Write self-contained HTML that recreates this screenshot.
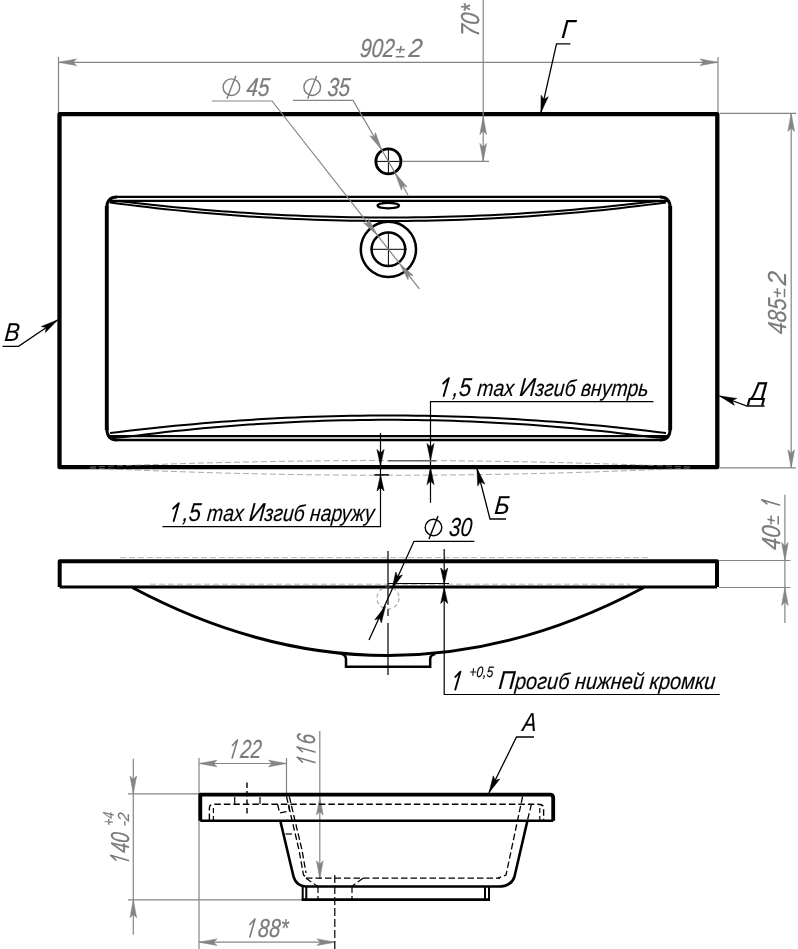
<!DOCTYPE html>
<html><head><meta charset="utf-8"><style>
html,body{margin:0;padding:0;background:#fff;}
svg{display:block;will-change:transform;}
text{font-family:"Liberation Sans",sans-serif;font-style:italic;}
</style></head><body>
<svg width="798" height="949" viewBox="0 0 798 949">
<rect width="798" height="949" fill="#fff"/>
<path d="M59.5,114.2 H717.3 V467.2 H59.5 Z" fill="none" stroke="#000" stroke-width="4.3" stroke-linejoin="round"/>
<path d="M106.8,430 V206" fill="none" stroke="#000" stroke-width="3.9" />
<path d="M670.2,430 V206" fill="none" stroke="#000" stroke-width="3.9" />
<path d="M106.8,208 Q106.8,196.9 117,196.9 M660,196.9 Q670.2,196.9 670.2,208" fill="none" stroke="#000" stroke-width="3.0" />
<path d="M116,196.9 H661" fill="none" stroke="#000" stroke-width="2.4" />
<path d="M110,200.9 H667" fill="none" stroke="#000" stroke-width="2.3" />
<path d="M106.8,428 Q106.8,440 117,440 M660,440 Q670.2,440 670.2,428" fill="none" stroke="#000" stroke-width="3.0" />
<path d="M116,440 H661" fill="none" stroke="#000" stroke-width="2.5" />
<path d="M110,436.1 H667" fill="none" stroke="#000" stroke-width="2.4" />
<path d="M110.00,201.30 L119.27,201.30 L128.53,202.16 L137.80,203.24 L147.07,204.27 L156.33,205.27 L165.60,206.23 L174.87,207.15 L184.13,208.03 L193.40,208.87 L202.67,209.67 L211.93,210.44 L221.20,211.16 L230.47,211.85 L239.73,212.49 L249.00,213.10 L258.27,213.67 L267.53,214.19 L276.80,214.68 L286.07,215.13 L295.33,215.54 L304.60,215.92 L313.87,216.25 L323.13,216.54 L332.40,216.80 L341.67,217.01 L350.93,217.19 L360.20,217.32 L369.47,217.42 L378.73,217.48 L388.00,217.50 L397.27,217.48 L406.53,217.42 L415.80,217.32 L425.07,217.19 L434.33,217.01 L443.60,216.80 L452.87,216.54 L462.13,216.25 L471.40,215.92 L480.67,215.54 L489.93,215.13 L499.20,214.68 L508.47,214.19 L517.73,213.67 L527.00,213.10 L536.27,212.49 L545.53,211.85 L554.80,211.16 L564.07,210.44 L573.33,209.67 L582.60,208.87 L591.87,208.03 L601.13,207.15 L610.40,206.23 L619.67,205.27 L628.93,204.27 L638.20,203.24 L647.47,202.16 L656.73,201.30 L666.00,201.30" fill="none" stroke="#000" stroke-width="2.0" />
<path d="M110.00,202.50 L119.27,203.71 L128.53,204.88 L137.80,206.02 L147.07,207.10 L156.33,208.15 L165.60,209.16 L174.87,210.13 L184.13,211.05 L193.40,211.94 L202.67,212.78 L211.93,213.58 L221.20,214.34 L230.47,215.06 L239.73,215.74 L249.00,216.38 L258.27,216.97 L267.53,217.53 L276.80,218.04 L286.07,218.51 L295.33,218.94 L304.60,219.34 L313.87,219.68 L323.13,219.99 L332.40,220.26 L341.67,220.49 L350.93,220.67 L360.20,220.81 L369.47,220.92 L378.73,220.98 L388.00,221.00 L397.27,220.98 L406.53,220.92 L415.80,220.81 L425.07,220.67 L434.33,220.49 L443.60,220.26 L452.87,219.99 L462.13,219.68 L471.40,219.34 L480.67,218.94 L489.93,218.51 L499.20,218.04 L508.47,217.53 L517.73,216.97 L527.00,216.38 L536.27,215.74 L545.53,215.06 L554.80,214.34 L564.07,213.58 L573.33,212.78 L582.60,211.94 L591.87,211.05 L601.13,210.13 L610.40,209.16 L619.67,208.15 L628.93,207.10 L638.20,206.01 L647.47,204.88 L656.73,203.71 L666.00,202.50" fill="none" stroke="#000" stroke-width="2.0" />
<path d="M110.00,433.10 L119.27,431.95 L128.53,430.83 L137.80,429.76 L147.07,428.72 L156.33,427.72 L165.60,426.77 L174.87,425.85 L184.13,424.97 L193.40,424.13 L202.67,423.32 L211.93,422.56 L221.20,421.84 L230.47,421.15 L239.73,420.51 L249.00,419.90 L258.27,419.33 L267.53,418.81 L276.80,418.32 L286.07,417.87 L295.33,417.46 L304.60,417.08 L313.87,416.75 L323.13,416.46 L332.40,416.20 L341.67,415.99 L350.93,415.81 L360.20,415.68 L369.47,415.58 L378.73,415.52 L388.00,415.50 L397.27,415.52 L406.53,415.58 L415.80,415.68 L425.07,415.81 L434.33,415.99 L443.60,416.20 L452.87,416.46 L462.13,416.75 L471.40,417.08 L480.67,417.46 L489.93,417.87 L499.20,418.32 L508.47,418.81 L517.73,419.33 L527.00,419.90 L536.27,420.51 L545.53,421.15 L554.80,421.84 L564.07,422.56 L573.33,423.32 L582.60,424.13 L591.87,424.97 L601.13,425.85 L610.40,426.77 L619.67,427.72 L628.93,428.72 L638.20,429.76 L647.47,430.83 L656.73,431.95 L666.00,433.10" fill="none" stroke="#000" stroke-width="2.0" />
<path d="M110.00,437.50 L119.27,437.50 L128.53,436.54 L137.80,435.37 L147.07,434.24 L156.33,433.15 L165.60,432.10 L174.87,431.10 L184.13,430.14 L193.40,429.22 L202.67,428.34 L211.93,427.51 L221.20,426.72 L230.47,425.97 L239.73,425.27 L249.00,424.60 L258.27,423.99 L267.53,423.41 L276.80,422.88 L286.07,422.38 L295.33,421.94 L304.60,421.53 L313.87,421.17 L323.13,420.85 L332.40,420.57 L341.67,420.33 L350.93,420.14 L360.20,419.99 L369.47,419.89 L378.73,419.82 L388.00,419.80 L397.27,419.82 L406.53,419.89 L415.80,419.99 L425.07,420.14 L434.33,420.33 L443.60,420.57 L452.87,420.85 L462.13,421.17 L471.40,421.53 L480.67,421.94 L489.93,422.38 L499.20,422.88 L508.47,423.41 L517.73,423.99 L527.00,424.60 L536.27,425.27 L545.53,425.97 L554.80,426.72 L564.07,427.51 L573.33,428.34 L582.60,429.22 L591.87,430.14 L601.13,431.10 L610.40,432.10 L619.67,433.15 L628.93,434.24 L638.20,435.37 L647.47,436.54 L656.73,437.50 L666.00,437.50" fill="none" stroke="#000" stroke-width="2.0" />
<circle cx="388.4" cy="161.4" r="12.5" fill="none" stroke="#000" stroke-width="2.9"/>
<line x1="376.5" y1="161.4" x2="399.5" y2="161.4" stroke="#000" stroke-width="1.0" />
<line x1="388.4" y1="149" x2="388.4" y2="173.5" stroke="#000" stroke-width="1.0" />
<ellipse cx="388.3" cy="205.6" rx="10.8" ry="2.7" fill="none" stroke="#000" stroke-width="2.3"/>
<circle cx="388.4" cy="249.3" r="27.6" fill="none" stroke="#000" stroke-width="2.5"/>
<circle cx="388.4" cy="249.3" r="16.8" fill="none" stroke="#000" stroke-width="2.5"/>
<line x1="370.4" y1="249.3" x2="407" y2="249.3" stroke="#000" stroke-width="1.0" />
<line x1="388.4" y1="231.5" x2="388.4" y2="267" stroke="#000" stroke-width="1.0" />
<path d="M90,467 Q390,454 690,467" fill="none" stroke="#858585" stroke-width="1.0" stroke-dasharray="6 3" opacity="0.7"/>
<path d="M90,468 Q390,482.5 690,468" fill="none" stroke="#858585" stroke-width="1.0" stroke-dasharray="6 3" opacity="0.7"/>
<line x1="58.5" y1="57" x2="58.5" y2="112" stroke="#858585" stroke-width="1.2" />
<line x1="718" y1="57" x2="718" y2="112" stroke="#858585" stroke-width="1.2" />
<line x1="58.5" y1="62.3" x2="718" y2="62.3" stroke="#858585" stroke-width="1.2" />
<path d="M58.50,62.30 L76.50,59.00 L73.00,62.30 L76.50,65.60 Z" fill="#858585" stroke="#858585" stroke-width="0.6" stroke-linejoin="miter"/>
<path d="M718.00,62.30 L700.00,65.60 L703.50,62.30 L700.00,59.00 Z" fill="#858585" stroke="#858585" stroke-width="0.6" stroke-linejoin="miter"/>
<text transform="translate(359.5,56.5) skewX(-5)" font-size="26" fill="#7a7a7a" stroke="#7a7a7a" stroke-width="0.25" text-anchor="start" textLength="34.5" lengthAdjust="spacingAndGlyphs" >902</text>
<text transform="translate(408.3,56.5) skewX(-5)" font-size="26" fill="#7a7a7a" stroke="#7a7a7a" stroke-width="0.25" text-anchor="start" textLength="13.5" lengthAdjust="spacingAndGlyphs" >2</text>
<g transform="translate(400.4,49.6) rotate(0)" stroke="#7a7a7a" stroke-width="1.5"><line x1="-4.6" y1="0" x2="4.6" y2="0"/><line x1="0.7" y1="-3.6" x2="-0.7" y2="3.6"/><line x1="-4.6" y1="7.1" x2="4.0" y2="7.1"/></g>
<line x1="720" y1="113.4" x2="796" y2="113.4" stroke="#858585" stroke-width="1.2" />
<line x1="720" y1="467.8" x2="796" y2="467.8" stroke="#858585" stroke-width="1.2" />
<line x1="791.2" y1="113.4" x2="791.2" y2="467.8" stroke="#858585" stroke-width="1.2" />
<path d="M791.20,113.40 L794.50,131.40 L791.20,127.90 L787.90,131.40 Z" fill="#858585" stroke="#858585" stroke-width="0.6" stroke-linejoin="miter"/>
<path d="M791.20,467.80 L787.90,449.80 L791.20,453.30 L794.50,449.80 Z" fill="#858585" stroke="#858585" stroke-width="0.6" stroke-linejoin="miter"/>
<text transform="translate(786,334.5) rotate(-90) skewX(-5)" font-size="26" fill="#7a7a7a" stroke="#7a7a7a" stroke-width="0.25" text-anchor="start" textLength="35.5" lengthAdjust="spacingAndGlyphs" >485</text>
<text transform="translate(786,285.5) rotate(-90) skewX(-5)" font-size="26" fill="#7a7a7a" stroke="#7a7a7a" stroke-width="0.25" text-anchor="start" textLength="13.5" lengthAdjust="spacingAndGlyphs" >2</text>
<g transform="translate(777.4,292.7) rotate(-90)" stroke="#7a7a7a" stroke-width="1.5"><line x1="-4.6" y1="0" x2="4.6" y2="0"/><line x1="0.7" y1="-3.6" x2="-0.7" y2="3.6"/><line x1="-4.6" y1="7.1" x2="4.0" y2="7.1"/></g>
<line x1="483.2" y1="0" x2="483.2" y2="161.4" stroke="#858585" stroke-width="1.2" />
<line x1="402" y1="161.4" x2="489" y2="161.4" stroke="#858585" stroke-width="1.2" />
<path d="M483.20,116.50 L486.50,134.50 L483.20,131.00 L479.90,134.50 Z" fill="#858585" stroke="#858585" stroke-width="0.6" stroke-linejoin="miter"/>
<path d="M483.20,161.40 L479.90,143.40 L483.20,146.90 L486.50,143.40 Z" fill="#858585" stroke="#858585" stroke-width="0.6" stroke-linejoin="miter"/>
<text transform="translate(478.5,37) rotate(-90) skewX(-5)" font-size="26" fill="#7a7a7a" stroke="#7a7a7a" stroke-width="0.25" text-anchor="start" textLength="32" lengthAdjust="spacingAndGlyphs" >70*</text>
<polyline points="212,101.0 272,101.0 419.4,288.8" fill="none" stroke="#858585" stroke-width="1.2" />
<path d="M377.29,235.14 L363.58,223.02 L368.33,223.73 L368.77,218.94 Z" fill="#858585" stroke="#858585" stroke-width="0.6" stroke-linejoin="miter"/>
<path d="M399.51,263.46 L413.22,275.58 L408.47,274.87 L408.03,279.66 Z" fill="#858585" stroke="#858585" stroke-width="0.6" stroke-linejoin="miter"/>
<circle cx="231.4" cy="87.2" r="8.3" fill="none" stroke="#7a7a7a" stroke-width="1.4"/>
<line x1="235.9" y1="75.7" x2="226.9" y2="98.7" stroke="#7a7a7a" stroke-width="1.4" />
<text transform="translate(246,96) skewX(-5)" font-size="26" fill="#7a7a7a" stroke="#7a7a7a" stroke-width="0.25" text-anchor="start" textLength="23" lengthAdjust="spacingAndGlyphs" >45</text>
<polyline points="293,100.4 353,100.4 408,195" fill="none" stroke="#858585" stroke-width="1.2" />
<path d="M381.62,149.72 L369.73,135.81 L374.35,137.18 L375.44,132.50 Z" fill="#858585" stroke="#858585" stroke-width="0.6" stroke-linejoin="miter"/>
<path d="M395.18,173.08 L407.11,186.95 L402.50,185.59 L401.42,190.28 Z" fill="#858585" stroke="#858585" stroke-width="0.6" stroke-linejoin="miter"/>
<circle cx="312.2" cy="87.2" r="8.3" fill="none" stroke="#7a7a7a" stroke-width="1.4"/>
<line x1="316.7" y1="75.7" x2="307.7" y2="98.7" stroke="#7a7a7a" stroke-width="1.4" />
<text transform="translate(327,96) skewX(-5)" font-size="26" fill="#7a7a7a" stroke="#7a7a7a" stroke-width="0.25" text-anchor="start" textLength="22.5" lengthAdjust="spacingAndGlyphs" >35</text>
<text transform="translate(561,38) skewX(-5)" font-size="26" fill="#000" stroke="#000" stroke-width="0.15" text-anchor="start" textLength="13" lengthAdjust="spacingAndGlyphs" >Г</text>
<polyline points="570.4,43.9 556.5,43.9 540.9,112.6" fill="none" stroke="#000" stroke-width="1.3" />
<path d="M540.90,112.60 L541.15,95.22 L543.89,99.44 L548.18,96.82 Z" fill="#000" stroke="#000" stroke-width="0.6" stroke-linejoin="miter"/>
<text transform="translate(4,340.5) skewX(-5)" font-size="26" fill="#000" stroke="#000" stroke-width="0.15" text-anchor="start" textLength="15" lengthAdjust="spacingAndGlyphs" >В</text>
<polyline points="2.5,346.3 18.5,346.3 57.5,320" fill="none" stroke="#000" stroke-width="1.3" />
<path d="M57.50,320.00 L45.42,332.49 L46.31,327.55 L41.39,326.52 Z" fill="#000" stroke="#000" stroke-width="0.6" stroke-linejoin="miter"/>
<text transform="translate(749.5,400) skewX(-5)" font-size="26" fill="#000" stroke="#000" stroke-width="0.15" text-anchor="start" textLength="17" lengthAdjust="spacingAndGlyphs" >Д</text>
<polyline points="764.5,406 747,406 719.5,396" fill="none" stroke="#000" stroke-width="1.3" />
<path d="M719.50,396.00 L736.71,398.43 L732.19,400.61 L734.25,405.19 Z" fill="#000" stroke="#000" stroke-width="0.6" stroke-linejoin="miter"/>
<text transform="translate(494,513.5) skewX(-5)" font-size="26" fill="#000" stroke="#000" stroke-width="0.15" text-anchor="start" textLength="15" lengthAdjust="spacingAndGlyphs" >Б</text>
<polyline points="506,519 490,519 477,468.5" fill="none" stroke="#000" stroke-width="1.3" />
<path d="M477.00,468.50 L484.72,484.07 L480.37,481.57 L477.75,485.86 Z" fill="#000" stroke="#000" stroke-width="0.6" stroke-linejoin="miter"/>
<text id="t1" transform="translate(440,396) skewX(-5)" font-size="26" fill="#000" stroke="#000" stroke-width="0.15" text-anchor="start" textLength="208" lengthAdjust="spacingAndGlyphs" > ,5 <tspan font-size="22.88">max </tspan>И<tspan font-size="22.88">згиб внутрь</tspan></text>
<polyline points="653.4,401.7 430.5,401.7 430.5,502.7" fill="none" stroke="#000" stroke-width="1.2" />
<path d="M430.50,460.50 L427.00,443.50 L430.50,447.00 L434.00,443.50 Z" fill="#000" stroke="#000" stroke-width="0.6" stroke-linejoin="miter"/>
<path d="M430.50,467.60 L434.00,484.60 L430.50,481.10 L427.00,484.60 Z" fill="#000" stroke="#000" stroke-width="0.6" stroke-linejoin="miter"/>
<line x1="388" y1="460.8" x2="436" y2="460.8" stroke="#606060" stroke-width="1.5" />
<text id="t2" transform="translate(170,521) skewX(-5)" font-size="26" fill="#000" stroke="#000" stroke-width="0.15" text-anchor="start" textLength="204" lengthAdjust="spacingAndGlyphs" > ,5 <tspan font-size="22.88">max </tspan>И<tspan font-size="22.88">згиб наружу</tspan></text>
<polyline points="162.5,526.7 380.5,526.7 380.5,433" fill="none" stroke="#000" stroke-width="1.2" />
<path d="M380.50,465.50 L377.00,449.50 L380.50,453.00 L384.00,449.50 Z" fill="#000" stroke="#000" stroke-width="0.6" stroke-linejoin="miter"/>
<path d="M380.50,475.00 L384.00,491.00 L380.50,487.50 L377.00,491.00 Z" fill="#000" stroke="#000" stroke-width="0.6" stroke-linejoin="miter"/>
<line x1="374.4" y1="474.9" x2="388.8" y2="474.9" stroke="#000" stroke-width="1.5" />
<path d="M59.7,587 V561.3 H717 V587" fill="none" stroke="#000" stroke-width="4.0" stroke-linejoin="round"/>
<line x1="59.7" y1="587" x2="717" y2="587" stroke="#000" stroke-width="3.0" />
<path d="M120,557.6 H650" fill="none" stroke="#858585" stroke-width="1.0" stroke-dasharray="6 3" opacity="0.6"/>
<path d="M150,584.2 H630" fill="none" stroke="#858585" stroke-width="1.0" stroke-dasharray="6 3" opacity="0.6"/>
<path d="M132.3,587.5 Q388,723.5 643.8,587.5" fill="none" stroke="#000" stroke-width="3.0" />
<path d="M341,653.5 Q346,655 346,659 V666.8 H430.2 V659 Q430.2,655 435.2,654" fill="none" stroke="#000" stroke-width="2.5" />
<line x1="388" y1="551" x2="388" y2="605" stroke="#000" stroke-width="1.2" />
<line x1="388" y1="609" x2="388" y2="616" stroke="#000" stroke-width="1.2" />
<line x1="388" y1="623" x2="388" y2="675" stroke="#000" stroke-width="1.2" />
<circle cx="388" cy="598" r="11" fill="none" stroke="#858585" stroke-width="1.2" stroke-dasharray="4 3" opacity="0.7"/>
<polyline points="474.4,541.3 414,541.3 369,640" fill="none" stroke="#000" stroke-width="1.3" />
<path d="M392.00,589.00 L395.85,572.06 L397.65,576.74 L402.39,575.07 Z" fill="#000" stroke="#000" stroke-width="0.6" stroke-linejoin="miter"/>
<path d="M385.50,606.00 L381.32,622.87 L379.61,618.15 L374.84,619.72 Z" fill="#000" stroke="#000" stroke-width="0.6" stroke-linejoin="miter"/>
<circle cx="433.5" cy="527.5" r="8.3" fill="none" stroke="#000" stroke-width="1.4"/>
<line x1="438.0" y1="516.0" x2="429.0" y2="539.0" stroke="#000" stroke-width="1.4" />
<text transform="translate(448.5,535.5) skewX(-5)" font-size="26" fill="#000" stroke="#000" stroke-width="0.15" text-anchor="start" textLength="23" lengthAdjust="spacingAndGlyphs" >30</text>
<line x1="719" y1="560.5" x2="790.4" y2="560.5" stroke="#858585" stroke-width="1.2" />
<line x1="719" y1="587.5" x2="790.4" y2="587.5" stroke="#858585" stroke-width="1.2" />
<line x1="784.9" y1="494.8" x2="784.9" y2="623" stroke="#858585" stroke-width="1.2" />
<path d="M784.90,560.50 L781.60,542.50 L784.90,546.00 L788.20,542.50 Z" fill="#858585" stroke="#858585" stroke-width="0.6" stroke-linejoin="miter"/>
<path d="M784.90,587.50 L788.20,605.50 L784.90,602.00 L781.60,605.50 Z" fill="#858585" stroke="#858585" stroke-width="0.6" stroke-linejoin="miter"/>
<text transform="translate(779.5,550.3) rotate(-90) skewX(-5)" font-size="26" fill="#7a7a7a" stroke="#7a7a7a" stroke-width="0.25" text-anchor="start" textLength="24" lengthAdjust="spacingAndGlyphs" >40</text>
<text id="t3" transform="translate(779.5,507.5) rotate(-90) skewX(-5)" font-size="26" fill="#7a7a7a" stroke="#7a7a7a" stroke-width="0.25" text-anchor="start" textLength="8.5" lengthAdjust="spacingAndGlyphs" > </text>
<g transform="translate(771.1,520) rotate(-90)" stroke="#7a7a7a" stroke-width="1.5"><line x1="-4.6" y1="0" x2="4.6" y2="0"/><line x1="0.7" y1="-3.6" x2="-0.7" y2="3.6"/><line x1="-4.6" y1="7.1" x2="4.0" y2="7.1"/></g>
<line x1="388" y1="583.5" x2="449" y2="583.5" stroke="#000" stroke-width="1.1" />
<polyline points="444.2,549 444.2,694.5 719.8,694.5" fill="none" stroke="#000" stroke-width="1.2" />
<path d="M444.20,584.00 L440.70,568.00 L444.20,571.50 L447.70,568.00 Z" fill="#000" stroke="#000" stroke-width="0.6" stroke-linejoin="miter"/>
<path d="M444.20,587.50 L447.70,603.50 L444.20,600.00 L440.70,603.50 Z" fill="#000" stroke="#000" stroke-width="0.6" stroke-linejoin="miter"/>
<text id="t4" transform="translate(452,689.5) skewX(-5)" font-size="26" fill="#000" stroke="#000" stroke-width="0.15" text-anchor="start" textLength="11" lengthAdjust="spacingAndGlyphs" > </text>
<text transform="translate(469,677) skewX(-5)" font-size="15" fill="#000" stroke="#000" stroke-width="0.15" text-anchor="start" textLength="24" lengthAdjust="spacingAndGlyphs" >+0,5</text>
<text transform="translate(498,689.3) skewX(-5)" font-size="26" fill="#000" stroke="#000" stroke-width="0.15" text-anchor="start" textLength="217" lengthAdjust="spacingAndGlyphs" >П<tspan font-size="22.88">рогиб нижней кромки</tspan></text>
<line x1="199" y1="758" x2="199" y2="949" stroke="#858585" stroke-width="1.2" />
<line x1="286.5" y1="758" x2="286.5" y2="795" stroke="#858585" stroke-width="1.2" />
<line x1="199" y1="763.5" x2="286.5" y2="763.5" stroke="#858585" stroke-width="1.2" />
<path d="M199.00,763.50 L217.00,760.20 L213.50,763.50 L217.00,766.80 Z" fill="#858585" stroke="#858585" stroke-width="0.6" stroke-linejoin="miter"/>
<path d="M286.50,763.50 L268.50,766.80 L272.00,763.50 L268.50,760.20 Z" fill="#858585" stroke="#858585" stroke-width="0.6" stroke-linejoin="miter"/>
<text id="t5" transform="translate(229,758) skewX(-5)" font-size="26" fill="#7a7a7a" stroke="#7a7a7a" stroke-width="0.25" text-anchor="start" textLength="32" lengthAdjust="spacingAndGlyphs" > 22</text>
<line x1="319.8" y1="731" x2="319.8" y2="879" stroke="#858585" stroke-width="1.2" />
<path d="M319.80,797.00 L323.10,815.00 L319.80,811.50 L316.50,815.00 Z" fill="#858585" stroke="#858585" stroke-width="0.6" stroke-linejoin="miter"/>
<path d="M319.80,878.80 L316.50,860.80 L319.80,864.30 L323.10,860.80 Z" fill="#858585" stroke="#858585" stroke-width="0.6" stroke-linejoin="miter"/>
<text id="t6" transform="translate(315,765.5) rotate(-90) skewX(-5)" font-size="26" fill="#7a7a7a" stroke="#7a7a7a" stroke-width="0.25" text-anchor="start" textLength="31" lengthAdjust="spacingAndGlyphs" >  6</text>
<line x1="128" y1="793.9" x2="199" y2="793.9" stroke="#858585" stroke-width="1.2" />
<line x1="128" y1="899.8" x2="301" y2="899.8" stroke="#858585" stroke-width="1.2" />
<line x1="133.3" y1="758.8" x2="133.3" y2="934.7" stroke="#858585" stroke-width="1.2" />
<path d="M133.30,793.90 L130.00,775.90 L133.30,779.40 L136.60,775.90 Z" fill="#858585" stroke="#858585" stroke-width="0.6" stroke-linejoin="miter"/>
<path d="M133.30,899.80 L136.60,917.80 L133.30,914.30 L130.00,917.80 Z" fill="#858585" stroke="#858585" stroke-width="0.6" stroke-linejoin="miter"/>
<text id="t7" transform="translate(128.5,863.5) rotate(-90) skewX(-5)" font-size="26" fill="#7a7a7a" stroke="#7a7a7a" stroke-width="0.25" text-anchor="start" textLength="30.5" lengthAdjust="spacingAndGlyphs" > 40</text>
<text transform="translate(114.3,826) rotate(-90) skewX(-5)" font-size="16" fill="#7a7a7a" stroke="#7a7a7a" stroke-width="0.2" text-anchor="start" textLength="13.5" lengthAdjust="spacingAndGlyphs" >+4</text>
<text transform="translate(128.8,826.5) rotate(-90) skewX(-5)" font-size="16" fill="#7a7a7a" stroke="#7a7a7a" stroke-width="0.2" text-anchor="start" textLength="13.5" lengthAdjust="spacingAndGlyphs" >-2</text>
<line x1="199" y1="942.2" x2="335" y2="942.2" stroke="#858585" stroke-width="1.2" />
<path d="M199.00,942.20 L217.00,938.90 L213.50,942.20 L217.00,945.50 Z" fill="#858585" stroke="#858585" stroke-width="0.6" stroke-linejoin="miter"/>
<path d="M335.00,942.20 L317.00,945.50 L320.50,942.20 L317.00,938.90 Z" fill="#858585" stroke="#858585" stroke-width="0.6" stroke-linejoin="miter"/>
<text id="t8" transform="translate(246.5,937) skewX(-5)" font-size="26" fill="#7a7a7a" stroke="#7a7a7a" stroke-width="0.25" text-anchor="start" textLength="41" lengthAdjust="spacingAndGlyphs" > 88*</text>
<text transform="translate(522,731) skewX(-5)" font-size="26" fill="#000" stroke="#000" stroke-width="0.15" text-anchor="start" textLength="14" lengthAdjust="spacingAndGlyphs" >А</text>
<polyline points="534,737 516.5,737 489,792.7" fill="none" stroke="#000" stroke-width="1.3" />
<path d="M489.00,792.70 L493.30,775.86 L494.98,780.59 L499.75,779.05 Z" fill="#000" stroke="#000" stroke-width="0.6" stroke-linejoin="miter"/>
<path d="M200.3,820.8 V794.7 H550 Q553.2,794.7 553.2,798 V820.8" fill="none" stroke="#000" stroke-width="3.8" stroke-linejoin="round"/>
<line x1="200.3" y1="820.8" x2="553.2" y2="820.8" stroke="#000" stroke-width="2.4" />
<path d="M280.3,820.8 L293.6,877 Q296.5,886 306,886.5 H497 Q511,887 514.4,877 L527.4,820.8" fill="none" stroke="#000" stroke-width="2.6" />
<line x1="302.7" y1="887" x2="302.7" y2="899.8" stroke="#000" stroke-width="2.0" />
<line x1="306.3" y1="887" x2="306.3" y2="899.8" stroke="#000" stroke-width="2.0" />
<line x1="485" y1="887" x2="485" y2="899.8" stroke="#000" stroke-width="2.0" />
<line x1="489" y1="887" x2="489" y2="899.8" stroke="#000" stroke-width="2.0" />
<line x1="301.5" y1="899.6" x2="490" y2="899.6" stroke="#000" stroke-width="2.8" />
<path d="M209.4,820 V808 Q209.4,804.2 214,804.2 H538 Q543.6,804.2 543.6,808 V820" fill="none" stroke="#000" stroke-width="1.4" stroke-dasharray="6.5 3"/>
<line x1="213.4" y1="808" x2="213.4" y2="820" stroke="#000" stroke-width="1.2" stroke-dasharray="5 3"/>
<line x1="539.8" y1="808" x2="539.8" y2="820" stroke="#000" stroke-width="1.2" stroke-dasharray="5 3"/>
<line x1="247" y1="782.6" x2="247" y2="814.2" stroke="#000" stroke-width="1.4" stroke-dasharray="5.5 3"/>
<line x1="234.7" y1="797" x2="234.7" y2="804" stroke="#000" stroke-width="1.2" />
<line x1="260" y1="797" x2="260" y2="804" stroke="#000" stroke-width="1.2" />
<polyline points="277.5,804.2 279.7,813 289.5,811 288.7,804.2" fill="none" stroke="#000" stroke-width="1.3" stroke-dasharray="6.5 3"/>
<polyline points="286.5,796.5 299,850 303.5,875 308,878.2" fill="none" stroke="#000" stroke-width="1.3" stroke-dasharray="6.5 3"/>
<polyline points="289.3,796.5 302,850 306,873" fill="none" stroke="#000" stroke-width="1.3" stroke-dasharray="6.5 3"/>
<line x1="285.5" y1="834" x2="294" y2="834" stroke="#000" stroke-width="1.2" stroke-dasharray="6.5 3"/>
<polyline points="522.6,796.5 506,875 498,878.2" fill="none" stroke="#000" stroke-width="1.3" stroke-dasharray="6.5 3"/>
<line x1="531.5" y1="804" x2="527.4" y2="820.5" stroke="#000" stroke-width="1.3" stroke-dasharray="6.5 3"/>
<line x1="306" y1="878.2" x2="500" y2="878.2" stroke="#000" stroke-width="1.3" stroke-dasharray="6.5 3"/>
<polyline points="306,878.2 317.5,886.2" fill="none" stroke="#000" stroke-width="1.2" stroke-dasharray="6.5 3"/>
<polyline points="363,878.2 352,886.2" fill="none" stroke="#000" stroke-width="1.2" stroke-dasharray="6.5 3"/>
<line x1="318" y1="886.5" x2="318" y2="899" stroke="#000" stroke-width="1.2" stroke-dasharray="6.5 3"/>
<line x1="352" y1="886.5" x2="352" y2="899" stroke="#000" stroke-width="1.2" stroke-dasharray="6.5 3"/>
<line x1="334.8" y1="875" x2="334.8" y2="949" stroke="#000" stroke-width="1.2" stroke-dasharray="8 3"/>
<path transform="translate(440,396) skewX(-5)" d="M3.69,0 L7.26,-17.89 L2.10,-12.52 " fill="none" stroke="#000" stroke-width="1.9" stroke-linecap="round" stroke-linejoin="round"/>
<path transform="translate(170,521) skewX(-5)" d="M3.66,0 L7.24,-17.89 L2.11,-12.52 " fill="none" stroke="#000" stroke-width="1.9" stroke-linecap="round" stroke-linejoin="round"/>
<path transform="translate(779.5,507.5) rotate(-90) skewX(-5)" d="M2.55,0 L6.13,-17.89 L2.56,-12.52 " fill="none" stroke="#7a7a7a" stroke-width="1.6" stroke-linecap="round" stroke-linejoin="round"/>
<path transform="translate(452,689.5) skewX(-5)" d="M3.30,0 L6.88,-17.89 L2.26,-12.52 " fill="none" stroke="#000" stroke-width="1.9" stroke-linecap="round" stroke-linejoin="round"/>
<path transform="translate(229,758) skewX(-5)" d="M3.20,0 L6.78,-17.89 L2.30,-12.52 " fill="none" stroke="#7a7a7a" stroke-width="1.6" stroke-linecap="round" stroke-linejoin="round"/>
<path transform="translate(315,765.5) rotate(-90) skewX(-5)" d="M3.10,0 L6.68,-17.89 L2.34,-12.52 M13.43,0 L17.01,-17.89 L12.66,-12.52 " fill="none" stroke="#7a7a7a" stroke-width="1.6" stroke-linecap="round" stroke-linejoin="round"/>
<path transform="translate(128.5,863.5) rotate(-90) skewX(-5)" d="M3.05,0 L6.63,-17.89 L2.36,-12.52 " fill="none" stroke="#7a7a7a" stroke-width="1.6" stroke-linecap="round" stroke-linejoin="round"/>
<path transform="translate(246.5,937) skewX(-5)" d="M3.33,0 L6.90,-17.89 L2.25,-12.52 " fill="none" stroke="#7a7a7a" stroke-width="1.6" stroke-linecap="round" stroke-linejoin="round"/>
</svg></body></html>
